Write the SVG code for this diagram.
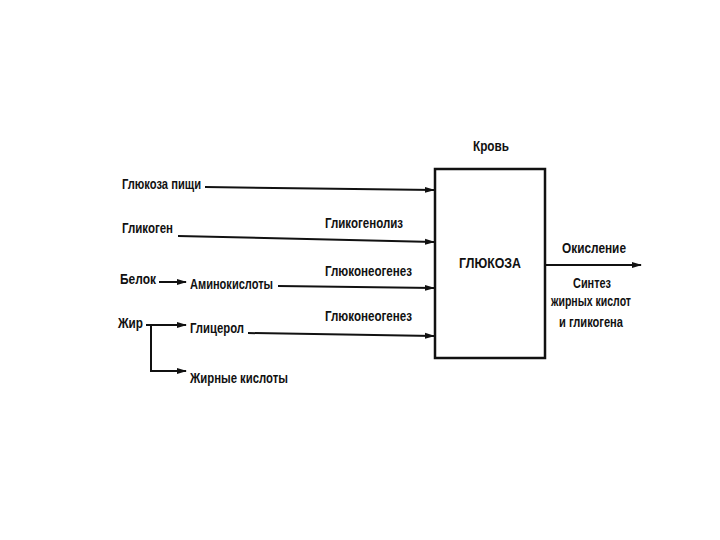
<svg xmlns="http://www.w3.org/2000/svg" width="720" height="540" viewBox="0 0 720 540">
<style>
text{font-family:"Liberation Sans","DejaVu Sans",sans-serif;font-weight:bold;font-size:14px;fill:#111}
.c{text-anchor:middle}
.ln{stroke:#111;stroke-width:2;fill:none}
.box{stroke:#111;stroke-width:2.5;fill:#fff}
</style>
<defs>
<marker id="ah" markerWidth="10" markerHeight="8" refX="9" refY="4" orient="auto" markerUnits="userSpaceOnUse">
<path d="M0,1 L10,4 L0,7 Z" fill="#111"/>
</marker>
</defs>
<rect width="720" height="540" fill="#fff"/>
<g id="connectors">
<line class="ln" x1="205" y1="187" x2="434" y2="190" marker-end="url(#ah)"/>
<line class="ln" x1="178" y1="236" x2="434" y2="242" marker-end="url(#ah)"/>
<line class="ln" x1="159" y1="282" x2="186" y2="282" marker-end="url(#ah)"/>
<line class="ln" x1="278" y1="286" x2="434" y2="288" marker-end="url(#ah)"/>
<line class="ln" x1="146" y1="325" x2="186" y2="325" marker-end="url(#ah)"/>
<line class="ln" x1="248" y1="333" x2="434" y2="336" marker-end="url(#ah)"/>
<polyline class="ln" points="151,325 151,371 186,371" marker-end="url(#ah)"/>
<line class="ln" x1="545" y1="265" x2="641" y2="265" marker-end="url(#ah)"/>
</g>
<g id="glucose_box">
<rect class="box" x="435" y="169" width="110" height="189"/>
<text class="c" x="490" y="268" textLength="62" lengthAdjust="spacingAndGlyphs">ГЛЮКОЗА</text>
</g>
<g id="blood"><text class="c" x="491" y="151" textLength="36" lengthAdjust="spacingAndGlyphs">Кровь</text></g>
<g id="food_glucose"><text x="122" y="189" textLength="79" lengthAdjust="spacingAndGlyphs">Глюкоза пищи</text></g>
<g id="glycogen"><text x="122" y="233" textLength="51" lengthAdjust="spacingAndGlyphs">Гликоген</text></g>
<g id="glycogenolysis"><text x="325" y="228" textLength="78" lengthAdjust="spacingAndGlyphs">Гликогенолиз</text></g>
<g id="protein"><text x="120" y="284" textLength="36" lengthAdjust="spacingAndGlyphs">Белок</text></g>
<g id="amino"><text x="190" y="289" textLength="83" lengthAdjust="spacingAndGlyphs">Аминокислоты</text></g>
<g id="gng1"><text x="325" y="276" textLength="87" lengthAdjust="spacingAndGlyphs">Глюконеогенез</text></g>
<g id="fat"><text x="118" y="328" textLength="25" lengthAdjust="spacingAndGlyphs">Жир</text></g>
<g id="glycerol"><text x="190" y="333" textLength="54" lengthAdjust="spacingAndGlyphs">Глицерол</text></g>
<g id="gng2"><text x="325" y="321" textLength="87" lengthAdjust="spacingAndGlyphs">Глюконеогенез</text></g>
<g id="fatty_acids"><text x="190" y="383" textLength="98" lengthAdjust="spacingAndGlyphs">Жирные кислоты</text></g>
<g id="oxidation"><text class="c" x="594" y="253" textLength="64" lengthAdjust="spacingAndGlyphs">Окисление</text></g>
<g id="synthesis">
<text class="c" x="592" y="288" textLength="38" lengthAdjust="spacingAndGlyphs">Синтез</text>
<text class="c" x="591" y="306" textLength="80" lengthAdjust="spacingAndGlyphs">жирных кислот</text>
<text class="c" x="591" y="327" textLength="64" lengthAdjust="spacingAndGlyphs">и гликогена</text>
</g>
</svg>
